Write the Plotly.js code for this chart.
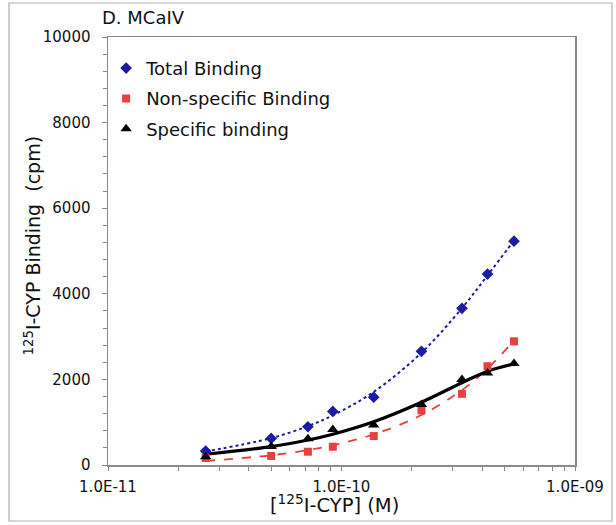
<!DOCTYPE html>
<html>
<head>
<meta charset="utf-8">
<script src="https://cdn.plot.ly/plotly-3.0.1.min.js"></script>
<style>html,body{margin:0;padding:0;background:#fff;}#chart{width:616px;height:525px;}</style>
</head>
<body>
<div id="chart"></div>
<script>
// [125I-CYP] concentrations (M)
const conc = [2.62e-11, 5.0e-11, 7.18e-11, 9.18e-11, 1.374e-10, 2.20e-10, 3.28e-10, 4.22e-10, 5.48e-10];
const totalBinding = [326, 622, 894, 1251, 1585, 2657, 3660, 4460, 5229];
const nonSpecificBinding = [163, 210, 311, 427, 676, 1274, 1663, 2308, 2890];
const specificBinding = [194, 435, 614, 831, 932, 1414, 1997, 2152, 2370];
const xTickVals = [1e-11, 1e-10, 1e-9];
const xTickText = ['1.0E-11', '1.0E-10', '1.0E-09'];
const xTitle = '[<sup>125</sup>I-CYP] (M)';
const yTitle = '<sup>125</sup>I-CYP Binding&nbsp; (cpm)';

// least-squares polynomial trendline (as in the spreadsheet), evaluated at the data x
function polyFit(xs, ys, order) {
  const n = order + 1;
  const sx = xs.map(v => v * 1e10);
  const A = [], b = [];
  for (let i = 0; i < n; i++) {
    A.push(new Array(n).fill(0)); b.push(0);
    for (let k = 0; k < sx.length; k++) {
      for (let j = 0; j < n; j++) A[i][j] += Math.pow(sx[k], i + j);
      b[i] += ys[k] * Math.pow(sx[k], i);
    }
  }
  for (let i = 0; i < n; i++) {
    let p = i;
    for (let r = i + 1; r < n; r++) if (Math.abs(A[r][i]) > Math.abs(A[p][i])) p = r;
    [A[i], A[p]] = [A[p], A[i]]; [b[i], b[p]] = [b[p], b[i]];
    for (let r = i + 1; r < n; r++) {
      const f = A[r][i] / A[i][i];
      for (let c = i; c < n; c++) A[r][c] -= f * A[i][c];
      b[r] -= f * b[i];
    }
  }
  const coef = new Array(n).fill(0);
  for (let i = n - 1; i >= 0; i--) {
    let s = b[i];
    for (let c = i + 1; c < n; c++) s -= A[i][c] * coef[c];
    coef[i] = s / A[i][i];
  }
  return sx.map(v => coef.reduce((acc, c, i) => acc + c * Math.pow(v, i), 0));
}

const fitTotal = polyFit(conc, totalBinding, 2);
const fitNS = polyFit(conc, nonSpecificBinding, 2);
const fitSpec = polyFit(conc, specificBinding, 2);

const blue = '#1c1ca3', red = '#e8403f', black = '#000000';

const traces = [
  {x: conc, y: fitTotal, mode: 'lines', line: {color: blue, width: 2, dash: 'dot', shape: 'spline'}, showlegend: false, hoverinfo: 'skip'},
  {x: conc, y: fitNS, mode: 'lines', line: {color: red, width: 1.8, dash: 'dash', shape: 'spline'}, showlegend: false, hoverinfo: 'skip'},
  {x: conc, y: fitSpec, mode: 'lines', line: {color: black, width: 3.2, shape: 'spline'}, showlegend: false, hoverinfo: 'skip'},
  {x: conc, y: totalBinding, mode: 'markers', name: 'Total Binding', legendgroup: 'a',
   marker: {symbol: 'diamond', size: 9, color: blue}},
  {x: conc, y: nonSpecificBinding, mode: 'markers', name: 'Non-specific Binding', legendgroup: 'b',
   marker: {symbol: 'square', size: 8, color: red}},
  {x: conc, y: specificBinding, mode: 'markers', name: 'Specific binding', legendgroup: 'c',
   marker: {symbol: 'triangle-up', size: 10, color: black}}
];

const fontFam = '"DejaVu Sans", Verdana, sans-serif';
const layout = {
  width: 616, height: 525,
  margin: {l: 108, r: 41, t: 37, b: 60},
  paper_bgcolor: '#ffffff', plot_bgcolor: '#ffffff',
  font: {family: fontFam, color: '#111111', size: 15},
  title: {text: 'D. MCaIV', x: 102 / 616, xref: 'container', xanchor: 'left',
          y: 1 - 18 / 525, yref: 'container', yanchor: 'middle',
          font: {family: fontFam, size: 18, color: '#111111'}},
  showlegend: true,
  legend: {x: -0.004, y: 0.97, xanchor: 'left', yanchor: 'top', xref: 'paper', yref: 'paper',
           font: {family: fontFam, size: 18, color: '#111111'}, bgcolor: 'rgba(0,0,0,0)',
           traceorder: 'grouped', tracegroupgap: 4, itemwidth: 30},
  xaxis: {
    type: 'log', range: [-11, -9],
    tickmode: 'array', tickvals: xTickVals, ticktext: xTickText,
    ticks: 'outside', ticklen: 4, tickcolor: '#888888', ticklabelstandoff: 3,
    minor: {ticks: 'outside', ticklen: 4, tickcolor: '#888888', dtick: 'D1'},
    showline: true, linecolor: '#8a8a8a', linewidth: 1.5, mirror: true,
    showgrid: false, zeroline: false,
    tickfont: {family: fontFam, size: 15, color: '#111111'}
  },
  yaxis: {
    range: [0, 10000], tickmode: 'linear', tick0: 0, dtick: 2000, tickformat: 'd',
    ticks: 'outside', ticklen: 5, tickcolor: '#888888', ticklabelstandoff: 8,
    minor: {ticks: 'outside', ticklen: 4, tickcolor: '#888888', dtick: 400},
    showline: true, linecolor: '#8a8a8a', linewidth: 1.5, mirror: true,
    showgrid: false, zeroline: false,
    tickfont: {family: fontFam, size: 15, color: '#111111'}
  },
  annotations: [
    {text: xTitle, xref: 'paper', yref: 'paper', x: (334 - 108) / 467, y: (465 - 504) / 428,
     xanchor: 'center', yanchor: 'middle', showarrow: false,
     font: {family: fontFam, size: 19.5, color: '#111111'}},
    {text: yTitle, xref: 'paper', yref: 'paper', x: (32.5 - 108) / 467, y: (465 - 246) / 428,
     xanchor: 'center', yanchor: 'middle', textangle: -90, showarrow: false,
     font: {family: fontFam, size: 19, color: '#111111'}}
  ],
  shapes: [
    {type: 'rect', xref: 'paper', yref: 'paper', layer: 'below',
     x0: (9 - 108) / 467, x1: (612 - 108) / 467, y0: -(521 - 465) / 428, y1: (465 - 3) / 428,
     line: {color: '#b0b0b0', width: 1.2}, fillcolor: 'rgba(0,0,0,0)'}
  ]
};

Plotly.newPlot('chart', traces, layout, {displayModeBar: false, staticPlot: true});
</script>
</body>
</html>
